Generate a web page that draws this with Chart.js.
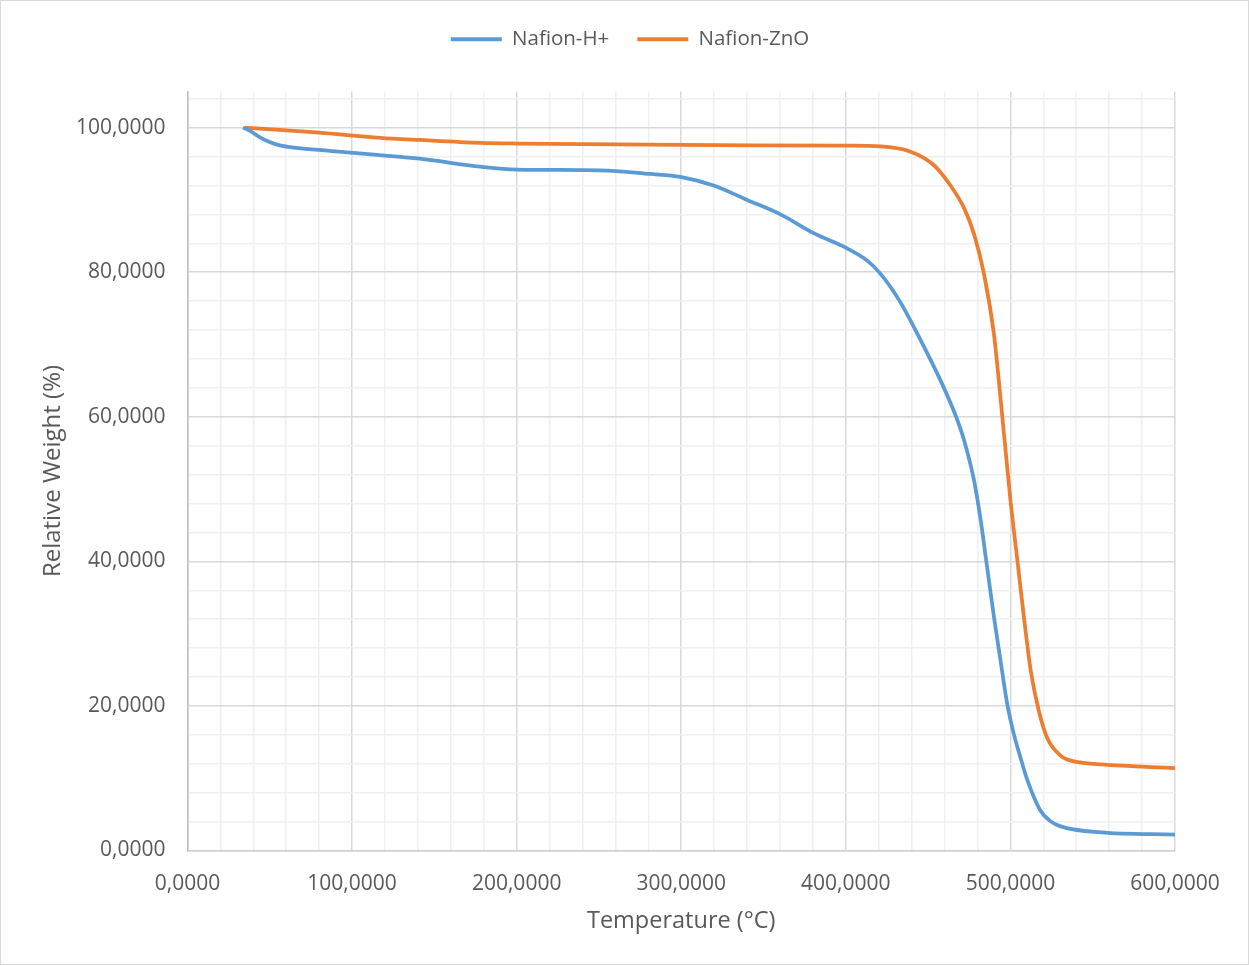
<!DOCTYPE html>
<html>
<head>
<meta charset="utf-8">
<script src="https://cdn.jsdelivr.net/npm/chart.js@4.4.0/dist/chart.umd.min.js"></script>
<style>
html,body{margin:0;padding:0;background:#fff;}
#wrap{width:1249px;height:965px;box-sizing:border-box;border:1px solid #d9d9d9;position:relative;}
canvas{display:block;}
</style>
</head>
<body>
<div id="wrap"><canvas id="c" width="1247" height="963"></canvas></div>
<script>
// Series: Nafion-H+
const hTemp = [33.7, 37.7, 43.8, 49.9, 56, 66.2, 86.4, 116.8, 141, 178, 200, 251, 281, 299.4, 319.7, 340, 360.3, 380.5, 400.8, 413, 421, 433, 445, 457.6, 467, 471.8, 477.9, 482, 485, 490, 494.1, 498.2, 502.2, 506.2, 510.2, 518, 524, 531, 555, 600];
const hWeight = [100, 99.6, 98.7, 98.0, 97.55, 97.2, 96.8, 96.2, 95.7, 94.6, 94.2, 94.1, 93.6, 93.2, 92.0, 90.0, 88.0, 85.4, 83.3, 81.6, 79.8, 75.9, 70.8, 65.0, 60.0, 56.8, 51.2, 45.6, 40.6, 32.3, 26.1, 20.1, 16.0, 12.8, 9.8, 5.6, 4.1, 3.3, 2.5, 2.2];
// Series: Nafion-ZnO
const zTemp = [34.7, 56, 80, 117, 141, 178, 200, 300, 400, 421, 439, 453, 462, 472, 478, 484, 490, 493, 500, 504.3, 508.3, 512.4, 517.4, 522.5, 530.6, 535, 540, 555, 600];
const zWeight = [100, 99.7, 99.3, 98.6, 98.3, 97.9, 97.8, 97.6, 97.5, 97.4, 96.7, 94.9, 92.5, 88.8, 85.2, 79.7, 71.4, 64.9, 48.5, 40.0, 32.1, 24.8, 19.2, 15.5, 13.1, 12.55, 12.25, 11.9, 11.4];
// Axis ticks
const xTicks = [0,20,40,60,80,100,120,140,160,180,200,220,240,260,280,300,320,340,360,380,400,420,440,460,480,500,520,540,560,580,600];
const xMajor = [0,100,200,300,400,500,600];
const yTicks = [0,4,8,12,16,20,24,28,32,36,40,44,48,52,56,60,64,68,72,76,80,84,88,92,96,100,104];
const yMajor = [0,20,40,60,80,100];

const toPts = (xs, ys) => xs.map((x, i) => ({x: x, y: ys[i]}));
const fmt = v => v.toFixed(4).replace('.', ',');
const FONT = "'Open Sans', sans-serif";
const TXT = '#595959';

const legendSpace = {
  id: 'legendSpace',
  beforeInit(chart) {
    const orig = chart.legend.fit;
    chart.legend.fit = function() { orig.bind(chart.legend)(); this.height += 32; };
  },
  afterLayout(chart) {
    chart.legend.left += 22;
    chart.legend.right += 22;
  }
};

new Chart(document.getElementById('c'), {
  type: 'line',
  data: {
    datasets: [
      {label: 'Nafion-H+', data: toPts(hTemp, hWeight), borderColor: '#5B9BD5', backgroundColor: '#5B9BD5', borderWidth: 3.75, pointRadius: 0, cubicInterpolationMode: 'monotone', fill: false},
      {label: 'Nafion-ZnO', data: toPts(zTemp, zWeight), borderColor: '#ED7D31', backgroundColor: '#ED7D31', borderWidth: 3.75, pointRadius: 0, cubicInterpolationMode: 'monotone', fill: false}
    ]
  },
  plugins: [legendSpace],
  options: {
    responsive: false,
    animation: false,
    layout: {padding: {top: 0, right: 73, bottom: 31, left: 40}},
    plugins: {
      legend: {
        position: 'top',
        labels: {font: {family: FONT, size: 20.5}, color: TXT, boxWidth: 51, boxHeight: 4, padding: 28,
          generateLabels: ch => Chart.defaults.plugins.legend.labels.generateLabels(ch).map(l => Object.assign({}, l, {strokeStyle: 'rgba(0,0,0,0)', lineWidth: 0}))}
      },
      tooltip: {enabled: false}
    },
    scales: {
      x: {
        type: 'linear', min: 0, max: 600,
        afterBuildTicks: s => { s.ticks = xTicks.map(v => ({value: v})); },
        grid: {color: c => xMajor.includes(c.tick.value) ? '#d9d9d9' : '#f0f0f0', lineWidth: 1.5, drawTicks: false},
        border: {color: '#d0d0d0', width: 1.5},
        ticks: {autoSkip: false, maxRotation: 0, padding: 23, color: TXT, font: {family: FONT, size: 21, lineHeight: 1.0},
          callback: v => xMajor.includes(v) ? fmt(v) : ''},
        title: {display: true, text: 'Temperature (°C)', color: TXT, font: {family: FONT, size: 23.5, lineHeight: 1.0}, padding: {top: -8, bottom: 0}}
      },
      y: {
        type: 'linear', min: 0, max: 105,
        afterBuildTicks: s => { s.ticks = yTicks.map(v => ({value: v})); },
        grid: {color: c => yMajor.includes(c.tick.value) ? '#d9d9d9' : '#f0f0f0', lineWidth: 1.5, drawTicks: false},
        border: {color: '#bfbfbf', width: 1.5},
        ticks: {autoSkip: false, padding: 22, color: TXT, font: {family: FONT, size: 21, lineHeight: 1.0},
          callback: v => yMajor.includes(v) ? fmt(v) : ''},
        title: {display: true, text: 'Relative Weight (%)', color: TXT, font: {family: FONT, size: 24, lineHeight: 1.0}, padding: {top: 0, bottom: -11}}
      }
    }
  }
});
</script>
</body>
</html>
